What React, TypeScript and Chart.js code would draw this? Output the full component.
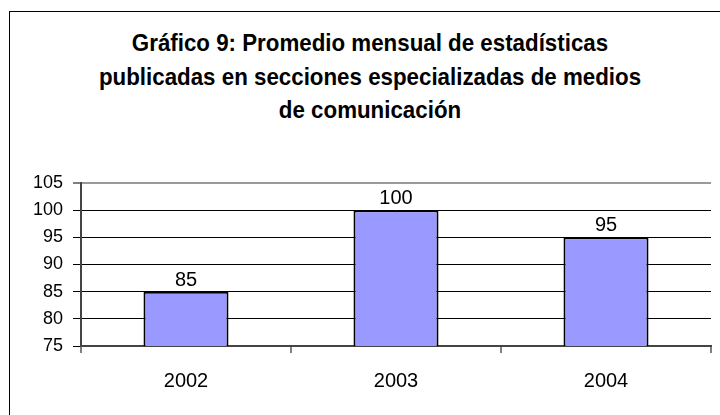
import React, { useEffect, useRef } from "react";
import { Chart, registerables } from "chart.js";

Chart.register(...registerables);

const categories = ["2002", "2003", "2004"];
const values = [85, 100, 95];
const titleLines = [
  "Gráfico 9: Promedio mensual de estadísticas",
  "publicadas en secciones especializadas de medios",
  "de comunicación",
];
const yMin = 75;
const yMax = 105;
const yStep = 5;

const NUM_FONT = "'Liberation Sans', Arial, sans-serif";
const TITLE_FONT = "'Liberation Sans', Arial, sans-serif";

const valueLabels = {
  id: "valueLabels",
  afterDatasetsDraw(chart: any) {
    const ctx = chart.ctx;
    chart.data.datasets.forEach((ds: any, di: number) => {
      const meta = chart.getDatasetMeta(di);
      meta.data.forEach((bar: any, i: number) => {
        ctx.save();
        ctx.font = `20px ${NUM_FONT}`;
        ctx.fillStyle = "#000";
        ctx.textAlign = "center";
        ctx.textBaseline = "alphabetic";
        ctx.fillText(String(ds.data[i]), bar.x, bar.y - 6);
        ctx.restore();
      });
    });
  },
};

export default function App() {
  const ref = useRef<HTMLCanvasElement | null>(null);

  useEffect(() => {
    if (!ref.current) return;
    const chart = new Chart(ref.current, {
      type: "bar",
      data: {
        labels: categories,
        datasets: [
          {
            data: values,
            backgroundColor: "#9999FF",
            borderColor: "#000000",
            borderWidth: 2,
            barPercentage: 0.405,
            categoryPercentage: 1,
          },
        ],
      },
      options: {
        animation: false,
        responsive: false,
        devicePixelRatio: 1,
        layout: { padding: { left: 29, right: 9, top: 183, bottom: 0 } },
        plugins: {
          legend: { display: false },
          tooltip: { enabled: false },
          title: { display: false },
        },
        scales: {
          x: {
            offset: true,
            grid: {
              offset: true,
              drawOnChartArea: true,
              color: (ctx: any) =>
                ctx.index === categories.length ? "#999999" : "rgba(0,0,0,0)",
              lineWidth: 2,
              tickColor: "#808080",
              tickWidth: 2,
              tickLength: 7,
            },
            border: { display: true, color: "#444444", width: 2 },
            ticks: {
              color: "#000",
              font: { family: NUM_FONT, size: 20 },
              padding: 16,
            },
            afterFit: (scale: any) => {
              scale.height = 69;
            },
          },
          y: {
            min: yMin,
            max: yMax,
            grid: {
              color: (ctx: any) =>
                ctx.tick && ctx.tick.value === yMax ? "#999999" : "#000000",
              lineWidth: (ctx: any) =>
                ctx.tick && ctx.tick.value === yMax ? 2 : 1,
              tickColor: "#000000",
              tickWidth: 1,
              tickLength: 8,
            },
            border: { display: true, color: "#444444", width: 2 },
            ticks: {
              stepSize: yStep,
              color: "#000",
              font: { family: NUM_FONT, size: 18 },
              padding: 10,
            },
            afterFit: (scale: any) => {
              scale.width = 52;
            },
          },
        },
      },
      plugins: [valueLabels],
    } as any);
    return () => chart.destroy();
  }, []);

  return (
    <div
      style={{
        position: "fixed",
        left: 0,
        top: 0,
        width: 720,
        height: 415,
        overflow: "hidden",
        background: "#fff",
      }}
    >
      <div
        style={{
          position: "absolute",
          left: 9,
          top: 11,
          width: 900,
          height: 900,
          border: "1px solid #000",
        }}
      />
      <div
        style={{
          position: "absolute",
          left: 0,
          top: 26,
          width: 740,
          textAlign: "center",
          fontFamily: TITLE_FONT,
          fontWeight: "bold",
          fontSize: 24,
          lineHeight: "33.5px",
          color: "#000",
          transform: "scaleX(0.93)",
          transformOrigin: "370px 0",
          whiteSpace: "nowrap",
        }}
      >
        {titleLines.map((line) => (
          <div key={line}>{line}</div>
        ))}
      </div>
      <canvas
        ref={ref}
        width={720}
        height={415}
        style={{ position: "absolute", left: 0, top: 0 }}
      />
    </div>
  );
}
